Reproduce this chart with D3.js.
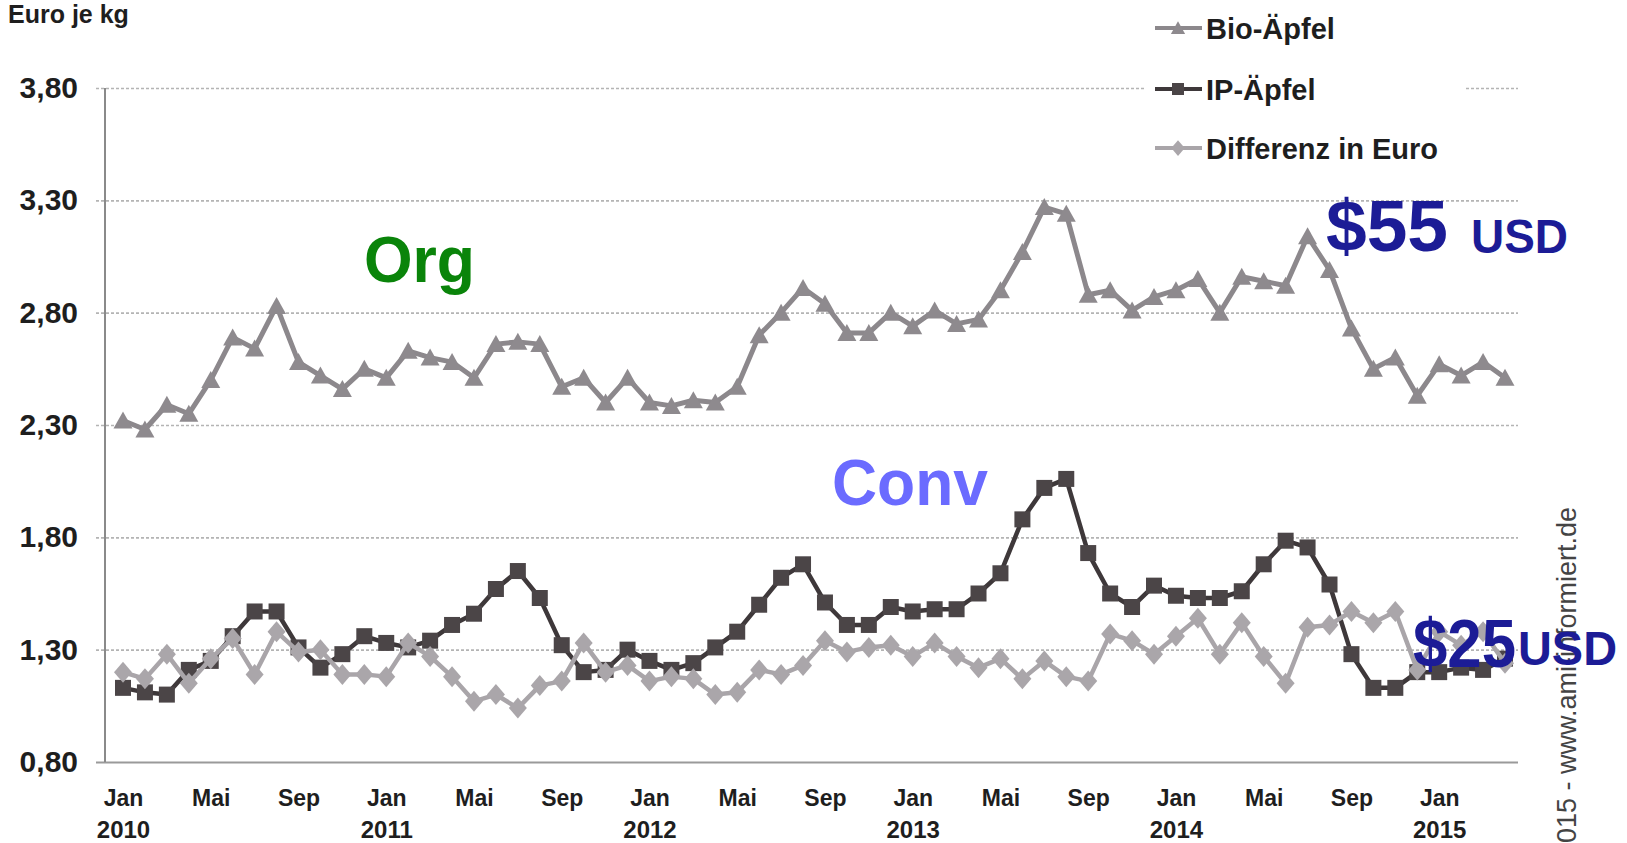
<!DOCTYPE html>
<html>
<head>
<meta charset="utf-8">
<script src="https://cdn.jsdelivr.net/npm/d3@7"></script>
<style>
  html, body { margin: 0; padding: 0; background: #fff; overflow: hidden; }
  svg { display: block; }
  text { font-family: "Liberation Sans", Arial, sans-serif; }
  .lbl { font-weight: bold; fill: #1e1e1e; }
</style>
</head>
<body>
<div id="chart"></div>
<script>
// monthly values Jan 2010 .. Apr 2015 (Euro je kg)
const bioAepfel = [2.32, 2.28, 2.39, 2.35, 2.50, 2.69, 2.64, 2.83, 2.58, 2.52,
    2.46, 2.55, 2.51, 2.63, 2.60, 2.58, 2.51, 2.66, 2.67, 2.66,
    2.47, 2.51, 2.40, 2.51, 2.40, 2.385, 2.41, 2.40, 2.47, 2.70,
    2.80, 2.91, 2.84, 2.71, 2.71, 2.80, 2.74, 2.81, 2.75, 2.77,
    2.90, 3.07, 3.27, 3.24, 2.88, 2.90, 2.81, 2.87, 2.90, 2.95,
    2.80, 2.96, 2.94, 2.92, 3.14, 2.99, 2.73, 2.55, 2.60, 2.43,
    2.57, 2.52, 2.58, 2.51];
const ipAepfel = [1.13, 1.11, 1.10, 1.21, 1.25, 1.36, 1.47, 1.47, 1.31, 1.22,
    1.28, 1.36, 1.33, 1.31, 1.34, 1.41, 1.46, 1.57, 1.65, 1.53,
    1.32, 1.20, 1.21, 1.30, 1.25, 1.21, 1.24, 1.31, 1.38, 1.50,
    1.62, 1.68, 1.51, 1.41, 1.41, 1.49, 1.47, 1.48, 1.48, 1.55,
    1.64, 1.88, 2.02, 2.06, 1.73, 1.55, 1.49, 1.585, 1.54, 1.53,
    1.53, 1.56, 1.68, 1.785, 1.755, 1.59, 1.28, 1.13, 1.13, 1.20,
    1.20, 1.22, 1.21, 1.26];
const differenz = [1.20, 1.17, 1.28, 1.15, 1.26, 1.35, 1.19, 1.38, 1.29, 1.30,
    1.19, 1.19, 1.18, 1.33, 1.27, 1.18, 1.07, 1.10, 1.04, 1.14,
    1.16, 1.33, 1.20, 1.23, 1.16, 1.18, 1.17, 1.10, 1.11, 1.21,
    1.19, 1.23, 1.34, 1.29, 1.31, 1.32, 1.27, 1.33, 1.27, 1.22,
    1.26, 1.17, 1.25, 1.18, 1.16, 1.37, 1.34, 1.28, 1.36, 1.44,
    1.28, 1.42, 1.27, 1.15, 1.40, 1.41, 1.47, 1.42, 1.47, 1.21,
    1.38, 1.32, 1.38, 1.24];

const monthTicks = ["Jan", "Mai", "Sep", "Jan", "Mai", "Sep", "Jan", "Mai", "Sep",
    "Jan", "Mai", "Sep", "Jan", "Mai", "Sep", "Jan"];   // every 4th month
const yearTicks = ["2010", "2011", "2012", "2013", "2014", "2015"];
const yTicks = [0.8, 1.3, 1.8, 2.3, 2.8, 3.3, 3.8];
const legendNames = ["Bio-Äpfel", "IP-Äpfel", "Differenz in Euro"];

const w = 1627;
const h = 843;

const svg = d3.select('#chart')
    .append('svg')
    .attr('width', w)
    .attr('height', h)
    .style('background-color', '#fff');

const xScale = d3.scaleLinear()
    .domain([0, bioAepfel.length - 1])
    .range([123, 1505]);

const yScale = d3.scaleLinear()
    .domain([0.8, 3.8])
    .range([762, 88]);

const comma = d => d.toFixed(2).replace('.', ',');

// y axis with dotted grid
const yAxis = d3.axisLeft(yScale)
    .tickValues(yTicks)
    .tickSize(-(1518 - 96))
    .tickPadding(18)
    .tickFormat(comma);

const gy = svg.append('g')
    .attr('transform', 'translate(96,0)')
    .call(yAxis);
gy.select('.domain').remove();
gy.selectAll('.tick line')
    .attr('stroke', (d) => d === 0.8 ? '#9a9a9a' : '#b4b4b4')
    .attr('stroke-width', (d) => d === 0.8 ? 2 : 1.6)
    .attr('stroke-dasharray', (d) => d === 0.8 ? null : '3,2');
gy.selectAll('.tick text')
    .attr('class', 'lbl')
    .style('font-size', '30px')
    .attr('fill', '#1e1e1e');

svg.append('line')
    .attr('x1', 105).attr('x2', 105)
    .attr('y1', yScale(3.8)).attr('y2', yScale(0.8))
    .attr('stroke', '#8a8a8a')
    .attr('stroke-width', 2);

// x axis: months + years
const monthIdx = monthTicks.map((m, i) => i * 4);
const xAxisMonths = d3.axisBottom(xScale)
    .tickValues(monthIdx)
    .tickSize(0)
    .tickPadding(0)
    .tickFormat((d, i) => monthTicks[i]);
const gx = svg.append('g')
    .attr('transform', 'translate(0,790)')
    .call(xAxisMonths);
gx.select('.domain').remove();
gx.selectAll('.tick text')
    .attr('class', 'lbl')
    .attr('dy', '0.71em')
    .style('font-size', '23px');

const yearIdx = yearTicks.map((y, i) => i * 12);
const xAxisYears = d3.axisBottom(xScale)
    .tickValues(yearIdx)
    .tickSize(0)
    .tickPadding(0)
    .tickFormat((d, i) => yearTicks[i]);
const gx2 = svg.append('g')
    .attr('transform', 'translate(0,821)')
    .call(xAxisYears);
gx2.select('.domain').remove();
gx2.selectAll('.tick text')
    .attr('class', 'lbl')
    .attr('dy', '0.71em')
    .style('font-size', '24px');

// axis title
svg.append('text')
    .attr('class', 'lbl')
    .attr('x', 8)
    .attr('y', 23)
    .style('font-size', '25px')
    .text('Euro je kg');

// series
const markerPath = {
    triangle: 'M0,-9L9.5,8L-9.5,8Z',
    square: 'M-8,-8H8V8H-8Z',
    diamond: 'M0,-10.5L9,0L0,10.5L-9,0Z'
};

const series = [
    { name: legendNames[0], values: bioAepfel, line: '#8c888c', fill: '#8e8a8e', width: 5, marker: 'triangle' },
    { name: legendNames[1], values: ipAepfel, line: '#3e383a', fill: '#4b4547', width: 4.5, marker: 'square' },
    { name: legendNames[2], values: differenz, line: '#a9a5a9', fill: '#aaa6aa', width: 4.5, marker: 'diamond' }
];

const line = d3.line()
    .x((d, i) => xScale(i))
    .y(d => yScale(d));

series.forEach(s => {
    const g = svg.append('g');
    g.append('path')
        .datum(s.values)
        .attr('d', line)
        .attr('fill', 'none')
        .attr('stroke', s.line)
        .attr('stroke-width', s.width)
        .attr('stroke-linejoin', 'round');
    g.selectAll('path.mk')
        .data(s.values)
        .enter()
        .append('path')
        .attr('class', 'mk')
        .attr('d', markerPath[s.marker])
        .attr('transform', (d, i) => 'translate(' + xScale(i) + ',' + yScale(d) + ')')
        .attr('fill', s.fill);
});

// legend
const legend = svg.append('g');
legend.append('rect')
    .attr('x', 1146).attr('y', 0)
    .attr('width', 318).attr('height', 170)
    .attr('fill', '#fff');
const legendY = [28, 89, 148];
series.forEach((s, i) => {
    const item = legend.append('g').attr('transform', 'translate(0,' + legendY[i] + ')');
    item.append('line')
        .attr('x1', 1155).attr('x2', 1202)
        .attr('stroke', s.line)
        .attr('stroke-width', 4);
    item.append('path')
        .attr('d', markerPath[s.marker])
        .attr('transform', 'translate(1178,0) scale(0.75)')
        .attr('fill', s.fill);
    item.append('text')
        .attr('class', 'lbl')
        .attr('x', 1206)
        .attr('y', 11)
        .style('font-size', '29px')
        .text(s.name);
});

// watermark (runs off the bottom edge, as in the source)
svg.append('text')
    .attr('transform', 'translate(1576,507) rotate(-90)')
    .attr('text-anchor', 'end')
    .style('font-size', '27px')
    .attr('fill', '#444')
    .text('2015 - www.ami-informiert.de');

// annotations
const notes = [
    { t: 'Org', x: 364, y: 282, size: 65, len: 111, color: '#0a840a' },
    { t: 'Conv', x: 832, y: 505, size: 65, len: 156, color: '#6b6bff' },
    { t: '$55', x: 1326, y: 251, size: 72, len: 122, color: '#1c1c96' },
    { t: 'USD', x: 1471, y: 253, size: 48, len: 97, color: '#1c1c96' },
    { t: '$25', x: 1413, y: 667, size: 68, len: 103, color: '#1c1c96' },
    { t: 'USD', x: 1518, y: 665, size: 49, len: 99, color: '#1c1c96' }
];
svg.selectAll('text.note')
    .data(notes)
    .enter()
    .append('text')
    .attr('class', 'note')
    .attr('x', d => d.x)
    .attr('y', d => d.y)
    .attr('textLength', d => d.len)
    .attr('lengthAdjust', 'spacingAndGlyphs')
    .style('font-size', d => d.size + 'px')
    .style('font-weight', 'bold')
    .attr('fill', d => d.color)
    .text(d => d.t);
</script>
</body>
</html>
